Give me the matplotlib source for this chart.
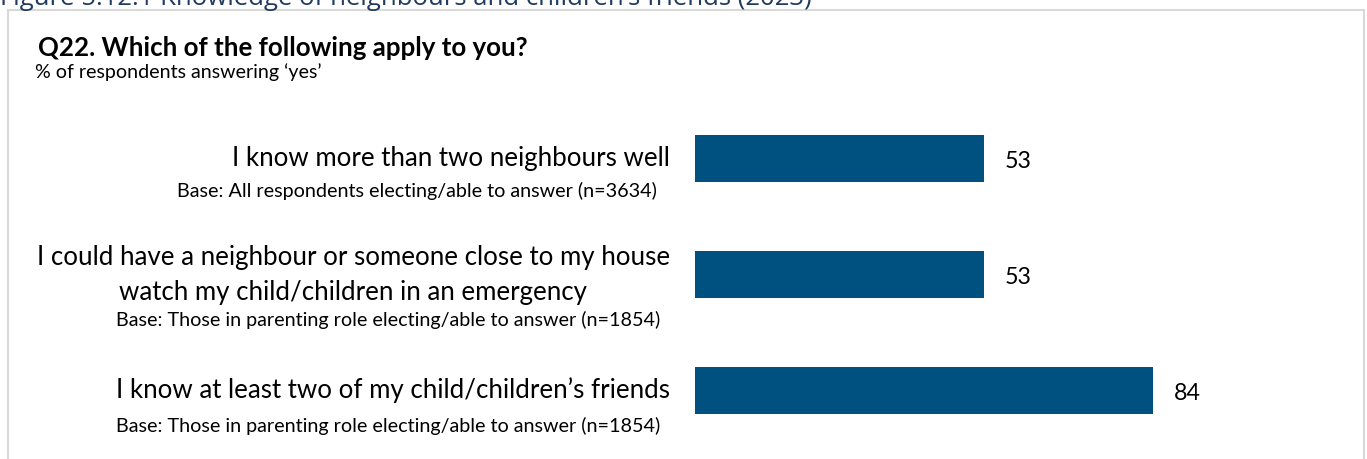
import matplotlib
matplotlib.use('Agg')
import matplotlib.pyplot as plt
from matplotlib.patches import Rectangle

# ---- data ----
categories = [
    "I know more than two neighbours well",
    "I could have a neighbour or someone close to my house\nwatch my child/children in an emergency",
    "I know at least two of my child/children\u2019s friends",
]
bases = [
    "Base: All respondents electing/able to answer (n=3634)",
    "Base: Those in parenting role electing/able to answer (n=1854)",
    "Base: Those in parenting role electing/able to answer (n=1854)",
]
values = [53, 53, 84]

fig_title = "Figure 5.12.1 Knowledge of neighbours and children\u2019s friends (2023)"
chart_title = "Q22. Which of the following apply to you?"
chart_subtitle = "% of respondents answering \u2018yes\u2019"

# ---- style ----
BAR = '#00517f'
FONT = 'Lato'
W, H, DPI = 1367, 459, 100

fig = plt.figure(figsize=(W / DPI, H / DPI), dpi=DPI)
fig.patch.set_facecolor('white')
renderer = fig.canvas.get_renderer()


def fx(px):
    return px / W


def fy(py):
    return 1 - py / H


def fit(t, target):
    for _ in range(3):
        w = t.get_window_extent(renderer).width
        t.set_fontsize(t.get_fontsize() * target / w)


# frame
fig.add_artist(Rectangle((fx(8), -0.2), fx(1364) - fx(8), fy(10.5) + 0.2,
                         transform=fig.transFigure, fill=False,
                         edgecolor='#d9d9d9', lw=1.5))

# cut-off figure caption at top (partly outside the image, as in the source)
t = fig.text(fx(0), fy(5), fig_title, ha='left', va='baseline',
             family='Open Sans', color='#1f3b5e', fontsize=16)
fit(t, 811)

t = fig.text(fx(38), fy(55.5), chart_title, ha='left', va='baseline',
             family=FONT, weight='bold', color='black', fontsize=15)
fit(t, 489)
t = fig.text(fx(35), fy(78), chart_subtitle, ha='left', va='baseline',
             family=FONT, color='black', fontsize=10)
fit(t, 287)

# bars
ax = fig.add_axes([fx(695), fy(448.3), 544.7 / W, 348 / H])
ypos = list(range(len(values)))
ax.barh(ypos, values, height=0.4, color=BAR)
ax.set_xlim(0, 100)
ax.set_ylim(len(values) - 0.5, -0.5)
ax.axis('off')

# font sizes fitted to reference widths
probe = fig.text(0, 0, categories[0], family=FONT, fontsize=16)
fit(probe, 438)
main_fs = probe.get_fontsize()
probe.remove()
probe = fig.text(0, 0, bases[0], family=FONT, fontsize=12)
fit(probe, 480)
base_fs = probe.get_fontsize()
probe.remove()
probe = fig.text(0, 0, '53', family=FONT, fontsize=16)
fit(probe, 27)
val_fs = probe.get_fontsize()
probe.remove()

# layout offsets (pixels, downwards from bar centre)
line_gap = 35
base_drop = [38.7, 51.7, 41.7]
base_right = [-38, -35, -35]

for i, (cat, base, v) in enumerate(zip(categories, bases, values)):
    lines = cat.split('\n')
    n = len(lines)
    first_w = None
    for k, line in enumerate(lines):
        dy = 8 + (k - (n - 1) / 2) * line_gap
        if k == 0:
            tt = ax.annotate(line, xy=(0, i), xytext=(-25, -dy),
                             textcoords='offset pixels', ha='right',
                             va='baseline', family=FONT, fontsize=main_fs)
            first_w = tt.get_window_extent(renderer).width
        else:
            ax.annotate(line, xy=(0, i), xytext=(-25 - first_w / 2, -dy),
                        textcoords='offset pixels', ha='center',
                        va='baseline', family=FONT, fontsize=main_fs)
    ax.annotate(base, xy=(0, i), xytext=(base_right[i], -base_drop[i]),
                textcoords='offset pixels', ha='right', va='baseline',
                family=FONT, fontsize=base_fs)
    ax.annotate(f'{v}', xy=(v, i), xytext=(21, -9.7),
                textcoords='offset pixels', ha='left', va='baseline',
                family=FONT, fontsize=val_fs)

fig.savefig('out.png', dpi=DPI)
